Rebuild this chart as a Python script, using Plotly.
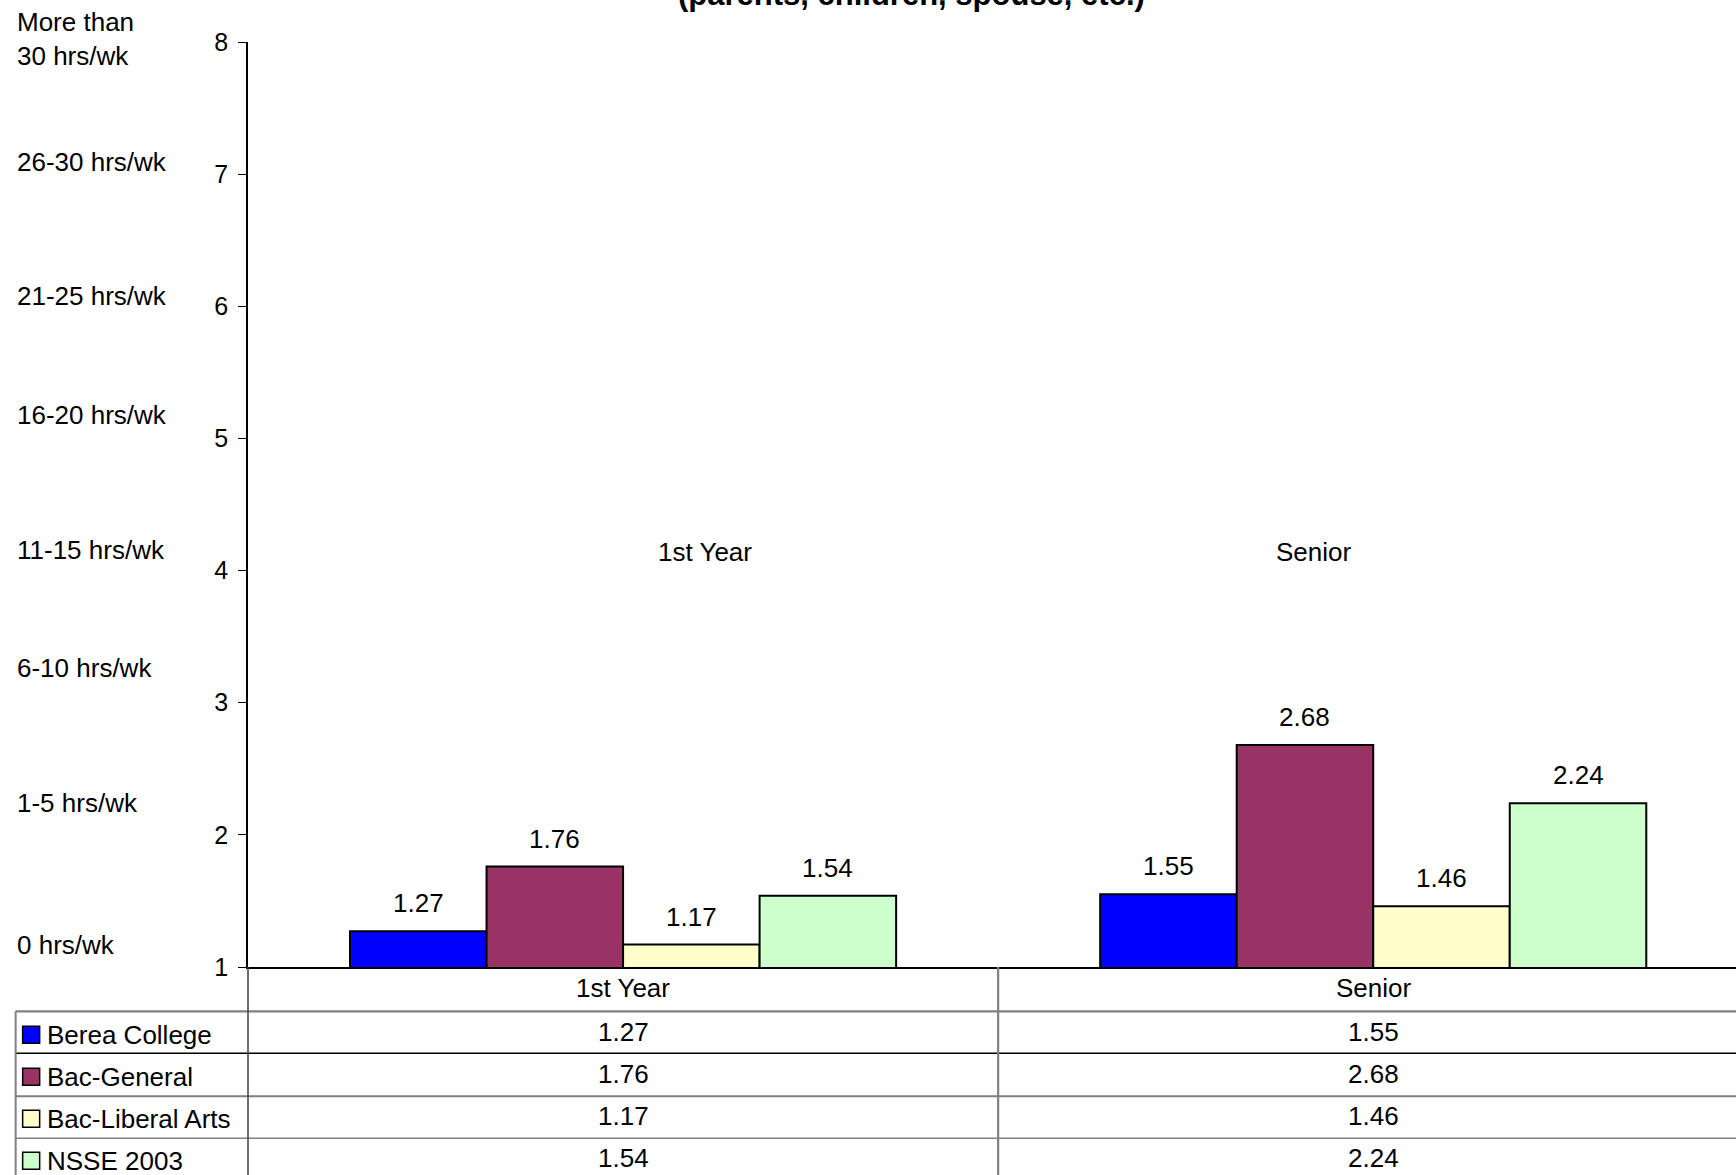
import plotly.graph_objects as go

# ---------------- data ----------------
categories = ["1st Year", "Senior"]
series_names = ["Berea College", "Bac-General", "Bac-Liberal Arts", "NSSE 2003"]
berea = [1.27, 1.55]
bac_general = [1.76, 2.68]
bac_liberal = [1.17, 1.46]
nsse = [1.54, 2.24]
y_tick_values = [1, 2, 3, 4, 5, 6, 7, 8]
y_scale_labels = ["0 hrs/wk", "1-5 hrs/wk", "6-10 hrs/wk", "11-15 hrs/wk",
                  "16-20 hrs/wk", "21-25 hrs/wk", "26-30 hrs/wk", "More than<br>30 hrs/wk"]
title_text = "(parents, children, spouse, etc.)"

series_values = [berea, bac_general, bac_liberal, nsse]

# ---------------- styling / layout ----------------
colors = ["#0000FF", "#993366", "#FFFFCC", "#CCFFCC"]
W, H = 1736, 1175
L, T = 248.3, 41.7
B_PX = 966.7            # pixel row of y=1 (bottom of plot area)
R = 0
plot_w = W - L - R
plot_h = B_PX - T
bargap = 0.272
FONT = "Liberation Sans, Arial, sans-serif"
FS = 26


def px_x(px):
    return (px - L) / plot_w


def px_y(py):
    return (B_PX - py) / plot_h


fig = go.Figure()
x_pos = list(range(len(categories)))
for name, col, vals in zip(series_names, colors, series_values):
    fig.add_trace(go.Bar(
        x=x_pos, y=vals, name=name,
        marker=dict(color=col, line=dict(color="black", width=2)),
        showlegend=False, hoverinfo="x+y+name",
    ))

annotations = []
shapes = []

# data labels above bars
n = len(series_names)
w = (1 - bargap) / n
for i, vals in enumerate(series_values):
    for j, v in enumerate(vals):
        annotations.append(dict(
            x=j + (i - (n - 1) / 2) * w, y=v, xref="x", yref="y",
            text=f"{v:.2f}", showarrow=False, yshift=28,
            xanchor="center", yanchor="middle",
            font=dict(size=FS, color="black", family=FONT),
        ))

# left scale labels (pixel centres)
label_centres = [945, 803, 668, 550, 415, 296, 162, 39]
for txt, cy in zip(y_scale_labels, label_centres):
    annotations.append(dict(
        x=px_x(15), y=px_y(cy), xref="paper", yref="paper",
        text=txt, showarrow=False, xanchor="left", yanchor="middle", align="left",
        font=dict(size=FS, color="black", family=FONT),
    ))

# floating category labels in the middle of the plot
for txt, (cx, cy) in zip(categories, [(705, 552), (1314, 552)]):
    annotations.append(dict(
        x=px_x(cx), y=px_y(cy), xref="paper", yref="paper",
        text=txt, showarrow=False, xanchor="center", yanchor="middle",
        font=dict(size=FS, color="black", family=FONT),
    ))

# title (only its lower part is inside the picture)
annotations.append(dict(
    x=px_x(912), y=1, xref="paper", yref="paper", text="<b>" + title_text + "</b>",
    showarrow=False, xanchor="center", yanchor="middle", yshift=48,
    font=dict(size=31, color="black", family=FONT),
))

# ---------------- data table ----------------
header_y = 988
row_centres = [1033, 1075, 1117, 1159]
for j, cat in enumerate(categories):
    annotations.append(dict(
        x=j, y=px_y(header_y), xref="x", yref="paper", text=cat, showarrow=False,
        xanchor="center", yanchor="middle",
        font=dict(size=FS, color="black", family=FONT),
    ))
for i, (name, col, vals) in enumerate(zip(series_names, colors, series_values)):
    cy = row_centres[i]
    for j, v in enumerate(vals):
        annotations.append(dict(
            x=j, y=px_y(cy - 1), xref="x", yref="paper", text=f"{v:.2f}", showarrow=False,
            xanchor="center", yanchor="middle",
            font=dict(size=FS, color="black", family=FONT),
        ))
    annotations.append(dict(
        x=px_x(45), y=px_y(cy + 2), xref="paper", yref="paper", text=name, showarrow=False,
        xanchor="left", yanchor="middle",
        font=dict(size=FS, color="black", family=FONT),
    ))
    shapes.append(dict(
        type="rect", xref="paper", yref="paper",
        x0=px_x(23), x1=px_x(40), y0=px_y(cy + 10), y1=px_y(cy - 7),
        fillcolor=col, line=dict(color="black", width=1.5), layer="above",
    ))

# horizontal table rules
for yy, colr, wd in [(1011, "#808080", 2.2), (1053, "black", 1.5),
                     (1096, "#808080", 2), (1138, "#808080", 1.5)]:
    shapes.append(dict(type="line", xref="paper", yref="paper",
                       x0=px_x(16), x1=1, y0=px_y(yy), y1=px_y(yy),
                       line=dict(color=colr, width=wd)))
# left border
shapes.append(dict(type="line", xref="paper", yref="paper",
                   x0=px_x(16), x1=px_x(16), y0=px_y(1011), y1=px_y(H + 5),
                   line=dict(color="#808080", width=2)))
# y axis continuation into the table
shapes.append(dict(type="line", xref="paper", yref="paper",
                   x0=0, x1=0, y0=0, y1=px_y(H + 5),
                   line=dict(color="#404040", width=1.5)))
# column divider between categories
shapes.append(dict(type="line", xref="x", yref="paper",
                   x0=0.5, x1=0.5, y0=0, y1=px_y(H + 5),
                   line=dict(color="#808080", width=2.2)))

fig.update_layout(
    width=W, height=H,
    margin=dict(l=L, r=R, t=T, b=H - B_PX, autoexpand=False),
    paper_bgcolor="white", plot_bgcolor="white",
    barmode="group", bargap=bargap, bargroupgap=0,
    font=dict(family=FONT, size=FS, color="black"),
    xaxis=dict(range=[-0.5, -0.5 + plot_w / 750.0], showticklabels=False,
               showline=True, linecolor="black", linewidth=1.5,
               showgrid=False, zeroline=False, ticks="", fixedrange=True),
    yaxis=dict(range=[1, 8], tickvals=y_tick_values, ticktext=[str(v) for v in y_tick_values],
               ticks="outside", ticklen=8, tickcolor="black", tickwidth=1,
               ticklabelstandoff=5,
               showline=True, linecolor="black", linewidth=1.5,
               showgrid=False, zeroline=False, fixedrange=True,
               tickfont=dict(size=25, color="black", family=FONT)),
    annotations=annotations, shapes=shapes,
    showlegend=False,
)

fig.write_html("out.html", include_plotlyjs=True,
               config={"displayModeBar": False, "staticPlot": False},
               post_script="document.body.style.margin='0';document.body.style.overflow='hidden';")
